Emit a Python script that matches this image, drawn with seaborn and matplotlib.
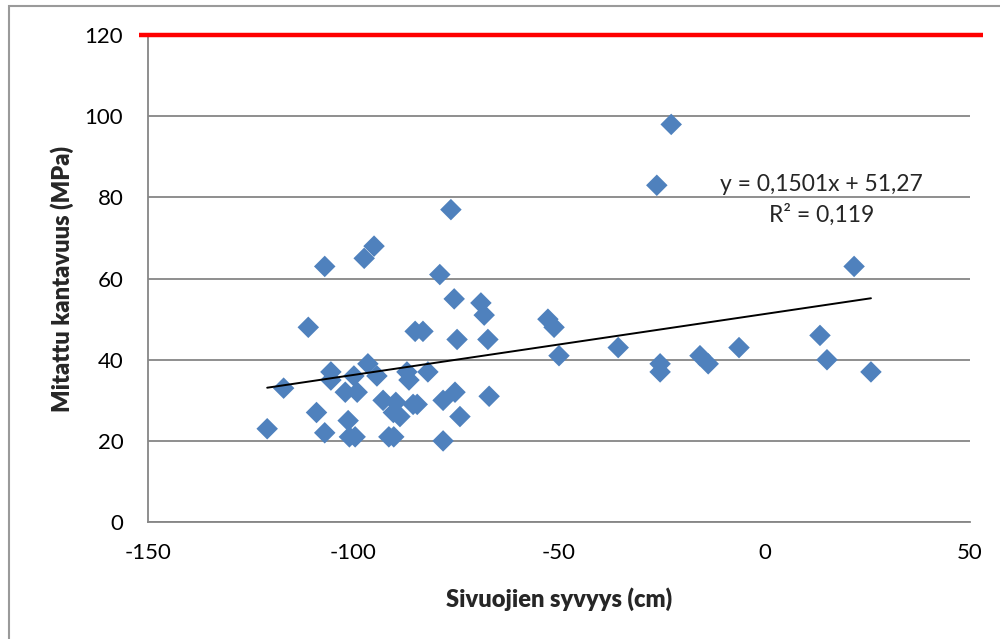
import numpy as np
import pandas as pd
import matplotlib
matplotlib.use("Agg")
import matplotlib.pyplot as plt
import seaborn as sns
from matplotlib.patches import Rectangle

# ---- data ----
depth_cm = [-121, -117, -111, -107, -109, -107, -105.5, -105.5, -102, -101.3,
            -101, -99.6, -99.9, -99.1, -97.4, -96.5, -95, -94.3, -92.8, -91.4,
            -90.2, -89.7, -90.3, -88.7, -87, -86.5, -85.5, -85, -84.5, -83.1,
            -81.9, -79, -78.2, -78.2, -76.3, -75.5, -75.3, -74.8, -74.1, -69,
            -68.2, -67.3, -67, -52.7, -51.2, -50, -35.6, -26.2, -25.4, -25.4,
            -22.7, -15.7, -13.7, -6.2, 13.5, 15.2, 21.8, 25.9]
bearing_mpa = [23, 33, 48, 63, 27, 22, 37, 35, 32, 25,
               21, 21, 36, 32, 65, 39, 68, 36, 30, 21,
               21, 29.5, 27, 26, 37, 35, 29, 47, 29, 47,
               37, 61, 30, 20, 77, 55, 32, 45, 26, 54,
               51, 45, 31, 50, 48, 41, 43, 83, 39, 37,
               98, 41, 39, 43, 46, 40, 63, 37]
slope = 0.1501
intercept = 51.27
r_squared = 0.119
limit_value = 120

x_ticks = [-150, -100, -50, 0, 50]
y_ticks = [0, 20, 40, 60, 80, 100, 120]
x_label = "Sivuojien syvyys (cm)"
y_label = "Mitattu kantavuus (MPa)"

df = pd.DataFrame({"x": depth_cm, "y": bearing_mpa})

sns.set_style("white")
plt.rcParams["font.family"] = ["Lato", "DejaVu Sans"]

fig = plt.figure(figsize=(10, 6.39), dpi=100)
ax = fig.add_axes([0.148, 0.183, 0.822, 0.762])

grey = "#868686"
blue = "#4F81BD"

# chart border (top and left edges visible)
fig.patches.append(Rectangle((0.009, -0.01), 1.0, 1.0 - 0.0094 + 0.01, transform=fig.transFigure,
                             fill=False, edgecolor="#9a9a9a", linewidth=1.5, zorder=0))

sns.scatterplot(data=df, x="x", y="y", marker="D", s=120, color=blue,
                edgecolor="none", linewidth=0, ax=ax, zorder=3)

# linear trendline over data range
xs = np.array([min(depth_cm), max(depth_cm)])
ax.plot(xs, slope * xs + intercept, color="black", linewidth=1.4, zorder=4)

ax.set_xlim(x_ticks[0], x_ticks[-1])
ax.set_ylim(y_ticks[0], y_ticks[-1])
ax.set_xticks(x_ticks)
ax.set_yticks(y_ticks)
ax.set_xticklabels([str(v) for v in x_ticks])
ax.set_yticklabels([str(v) for v in y_ticks])

ax.grid(axis="y", color=grey, linewidth=1.3)
ax.grid(axis="x", visible=False)
ax.set_axisbelow(True)

for side in ["top", "right"]:
    ax.spines[side].set_visible(False)
for side in ["left", "bottom"]:
    ax.spines[side].set_color(grey)
    ax.spines[side].set_linewidth(1.3)

ax.tick_params(axis="both", which="major", direction="out", length=5.8, width=1.3,
               color=grey, labelsize=16, labelcolor="black")
ax.tick_params(axis="y", pad=12)
ax.tick_params(axis="x", pad=9)

# red limit line at 120
ax.plot([-152.2, 53.2], [limit_value, limit_value], color="#FF0000", linewidth=3.2,
        clip_on=False, zorder=5, solid_capstyle="butt")

ax.set_xlabel(x_label, fontsize=17, fontweight="heavy", labelpad=18)
ax.set_ylabel(y_label, fontsize=17, fontweight="heavy", labelpad=8)

eq = "y = " + f"{slope:.4f}".replace(".", ",") + "x + " + f"{intercept:.2f}".replace(".", ",")
r2 = "R² = " + f"{r_squared:.3f}".replace(".", ",")
ax.text(0.819, 0.693, eq, transform=ax.transAxes, ha="center", va="center", fontsize=16.5)
ax.text(0.819, 0.632, r2, transform=ax.transAxes, ha="center", va="center", fontsize=16.5)

fig.savefig("out.png", dpi=100)
